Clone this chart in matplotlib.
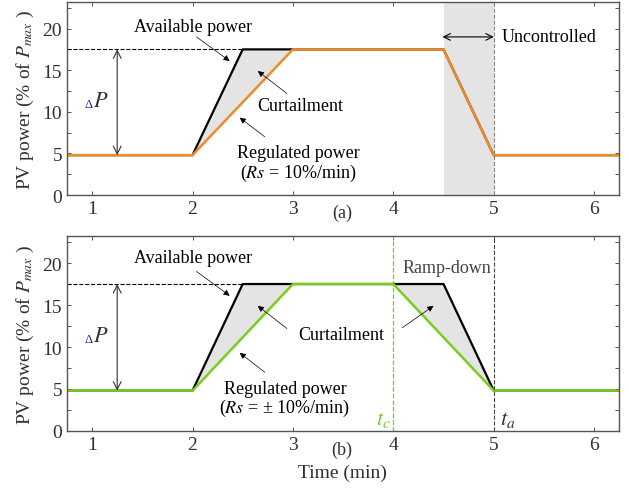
import matplotlib.pyplot as plt
import numpy as np

plt.rcParams["font.family"] = ["Liberation Serif", "DejaVu Serif"]
plt.rcParams["mathtext.fontset"] = "stix"

# piecewise-linear power profiles (time in min, power in % of Pmax)
t_avail = [0.75, 2.0, 2.5, 4.5, 5.0, 6.25]
p_avail = [4.8, 4.8, 17.5, 17.5, 4.8, 4.8]

t_reg_a = [0.75, 2.0, 3.0, 4.5, 5.0, 6.25]
p_reg_a = [4.8, 4.8, 17.5, 17.5, 4.8, 4.8]

t_reg_b = [0.75, 2.0, 3.0, 4.0, 5.0, 6.25]
p_reg_b = [4.8, 4.8, 17.5, 17.5, 4.8, 4.8]

x_ticks = [1, 2, 3, 4, 5, 6]
y_ticks = [0, 5, 10, 15, 20]
t_uncontrolled = (4.5, 5.0)
t_c, t_a = 4.0, 5.0

ORANGE = "#ee8b2b"
GREEN = "#7acc1e"
FILL = "#e4e4e4"
TXT = "#303030"
SPINE = "#555555"
FS = 13

fig = plt.figure(figsize=(6.29, 4.89), dpi=100)
ax_a = fig.add_axes([0.1065, 0.599, 0.878, 0.395])
ax_b = fig.add_axes([0.1065, 0.1166, 0.878, 0.3984])


def style(ax):
    ax.set_xlim(0.75, 6.25)
    ax.set_ylim(0, 23.2)
    ax.set_xticks(x_ticks)
    ax.set_yticks(y_ticks)
    ax.set_yticks(np.arange(0, 23, 2.5), minor=True)
    ax.tick_params(direction="in", top=True, right=True, which="both",
                   labelsize=14, labelcolor=TXT, color=SPINE, length=3, width=0.7)
    for s in ax.spines.values():
        s.set_color(SPINE)
        s.set_linewidth(1.0)
    ax.set_ylabel("PV power (% of $P_{max}$ )", fontsize=14, color=TXT, labelpad=5)


def arrow(ax, xy, xytext):
    ax.annotate("", xy=xy, xytext=xytext,
                arrowprops=dict(arrowstyle="-|>", color="k", lw=0.5,
                                mutation_scale=9, shrinkA=0, shrinkB=0))


def common(ax, reg_t, reg_p, reg_color):
    ax.plot([0.75, t_avail[2]], [p_avail[2], p_avail[2]], "--", color="k", lw=0.8)
    ax.annotate("", xy=(1.25, p_avail[2]), xytext=(1.25, p_avail[1]),
                arrowprops=dict(arrowstyle="<->", color="#333333", lw=0.8,
                                mutation_scale=14, shrinkA=0, shrinkB=0))
    ax.text(0.96, 11.0, "Δ", fontsize=9, color="#1a237e", ha="center", va="center")
    ax.text(1.09, 11.2, "$P$", fontsize=16, color="#333333", ha="center", va="center")
    ax.plot(t_avail, p_avail, color="k", lw=1.6)
    ax.plot(reg_t, reg_p, color=reg_color, lw=1.8)
    # curtailment while ramping up
    ax.fill([t_avail[1], t_avail[2], reg_t[2]], [p_avail[1], p_avail[2], reg_p[2]],
            color=FILL, zorder=1)
    arrow(ax, (2.37, 16.1), (2.04, 19.0))
    arrow(ax, (2.47, 9.3), (2.72, 7.0))
    arrow(ax, (2.65, 14.9), (2.94, 12.2))


# (a) uncontrolled ramp-down
style(ax_a)
ax_a.axvspan(*t_uncontrolled, color=FILL, zorder=0, lw=0)
ax_a.axvline(t_uncontrolled[1], color="#888888", ls="--", lw=0.8)
common(ax_a, t_reg_a, p_reg_a, ORANGE)
ax_a.text(2.01, 20.2, "Available power", fontsize=FS, color="k", ha="center", va="center")
ax_a.text(3.07, 10.8, "Curtailment", fontsize=FS, color="k", ha="center", va="center")
ax_a.text(3.05, 5.1, "Regulated power", fontsize=FS, color="k", ha="center", va="center")
ax_a.text(3.05, 2.7, "($Rs$ = 10%/min)", fontsize=FS, color="k", ha="center", va="center")
ax_a.annotate("", xy=(4.49, 19.0), xytext=(5.0, 19.0),
              arrowprops=dict(arrowstyle="<->", color="k", lw=0.8,
                              mutation_scale=12, shrinkA=0, shrinkB=0))
ax_a.text(5.08, 19.0, "Uncontrolled", fontsize=FS, color="k", ha="left", va="center")
ax_a.text(3.49, -2.1, "(a)", fontsize=FS, color=TXT, ha="center", va="center")

# (b) controlled ramp-down
style(ax_b)
ax_b.axvline(t_c, color=GREEN, ls="--", lw=0.9)
ax_b.axvline(t_a, color="#444444", ls="--", lw=0.8)
common(ax_b, t_reg_b, p_reg_b, GREEN)
ax_b.fill([t_reg_b[3], t_avail[3], t_avail[4]], [p_reg_b[3], p_avail[3], p_avail[4]],
          color=FILL, zorder=1)
ax_b.text(2.01, 20.7, "Available power", fontsize=FS, color="k", ha="center", va="center")
ax_b.text(3.48, 11.5, "Curtailment", fontsize=FS, color="k", ha="center", va="center")
ax_b.text(2.92, 5.0, "Regulated power", fontsize=FS, color="k", ha="center", va="center")
ax_b.text(2.92, 2.8, "($Rs$ = ± 10%/min)", fontsize=FS, color="k", ha="center", va="center")
arrow(ax_b, (4.40, 14.9), (4.09, 12.3))
ax_b.text(4.09, 19.5, "Ramp-down", fontsize=FS, color="#444444", ha="left", va="center")
ax_b.text(3.9, 1.4, "$t_c$", fontsize=16, color=GREEN, ha="center", va="center")
ax_b.text(5.14, 1.4, "$t_a$", fontsize=16, color="#333333", ha="center", va="center")
ax_b.text(3.49, -2.2, "(b)", fontsize=FS, color=TXT, ha="center", va="center")
fig.text(0.545, 0.033, "Time (min)", fontsize=14, color=TXT, ha="center", va="center")

fig.savefig("out.png", dpi=100)
